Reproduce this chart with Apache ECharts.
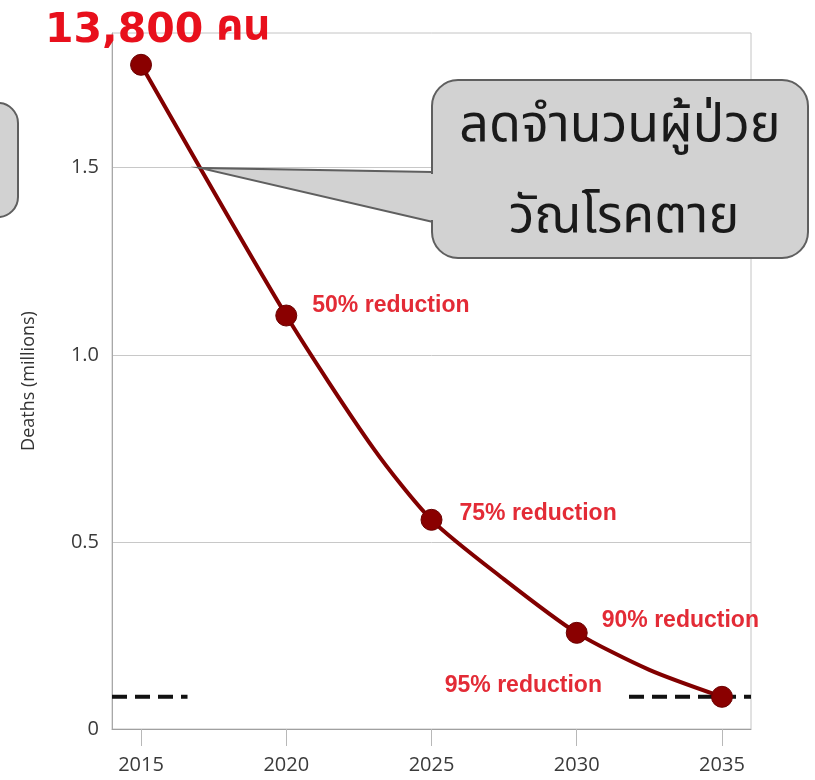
<!DOCTYPE html>
<html>
<head>
<meta charset="utf-8">
<script src="https://cdn.jsdelivr.net/npm/echarts@6/dist/echarts.min.js"></script>
<style>html,body{margin:0;padding:0;background:#fff}#c{width:815px;height:780px}</style>
</head>
<body>
<div id="c"></div>
<script>
// ---- data ----
const curveYears  = [2015, 2020, 2023, 2025, 2027.5, 2030, 2032.5, 2035];
const curveDeaths = [1.775, 1.105, 0.75, 0.559, 0.40, 0.257, 0.158, 0.086];
const markerYears  = [2015, 2020, 2025, 2030, 2035];
const markerDeaths = [1.775, 1.105, 0.559, 0.257, 0.086];
const reductionLabels = ['', '50% reduction', '75% reduction', '90% reduction', '95% reduction'];
const targetLevel = 0.086;
const targetDashLeft  = [2014, 2016.6];
const targetDashRight = [2031.8, 2036];
const xTicks = [2015, 2020, 2025, 2030, 2035];
const yTicks = [0, 0.5, 1.0, 1.5];
const yAxisName = 'Deaths (millions)';
const headline = '13,800';
const headlineUnit = 'คน';
const calloutLines = ['ลดจำนวนผู้ป่วย', 'วัณโรคตาย'];

const chart = echarts.init(document.getElementById('c'), null, {renderer: 'canvas'});

const labelPlacement = [
  {show: false},
  {position: 'right', distance: 15, offset: [0, -10]},
  {position: 'right', distance: 17, offset: [0, -6]},
  {position: 'right', distance: 14, offset: [0, -12]},
  {position: 'left', distance: 5, offset: [-104, -11]}
];
const labelFont = {color: '#e32b36', fontSize: 23, fontWeight: 'bold', fontFamily: 'Liberation Sans, Arial, sans-serif'};

const markerData = markerYears.map((yr, i) => ({
  value: [yr, markerDeaths[i]],
  label: Object.assign({show: !!reductionLabels[i], formatter: reductionLabels[i]}, labelFont, labelPlacement[i])
}));

const thaiFont = 'Noto Sans Thai, Noto Sans, DejaVu Sans, sans-serif';
const axisFont = 'Open Sans, sans-serif';
const boxFill = '#d2d2d2', boxStroke = '#5f5f5f';

chart.setOption({
  animation: false,
  backgroundColor: '#ffffff',
  grid: {left: 112, right: 64, top: 33, bottom: 51, show: true, borderColor: '#c4c4c4', borderWidth: 1},
  xAxis: {
    type: 'value', min: 2014, max: 2036,
    axisLine: {show: true, lineStyle: {color: '#a0a0a0', width: 1}},
    axisTick: {show: true, customValues: xTicks, length: 17, lineStyle: {color: '#b8b8b8'}},
    axisLabel: {customValues: xTicks, formatter: v => String(v), color: '#3a3a3a', fontSize: 20, margin: 26, fontFamily: axisFont},
    splitLine: {show: false}
  },
  yAxis: {
    type: 'value', min: 0, max: 1.86,
    name: yAxisName, nameLocation: 'middle', nameGap: 74, nameRotate: 90,
    nameTextStyle: {color: '#333', fontSize: 18, fontFamily: axisFont},
    axisLine: {show: true, lineStyle: {color: '#a8a8a8', width: 1}},
    axisTick: {show: false, customValues: yTicks},
    axisLabel: {customValues: yTicks, formatter: v => v === 0 ? '0' : v.toFixed(1), color: '#3a3a3a', fontSize: 20, margin: 13, fontFamily: axisFont},
    splitLine: {show: true, lineStyle: {color: '#c8c8c8', width: 1}}
  },
  series: [
    {
      type: 'line', z: 2, symbol: 'none', silent: true,
      data: targetDashLeft.map(x => [x, targetLevel]),
      lineStyle: {color: '#111', width: 4, type: [15, 8]}
    },
    {
      type: 'line', z: 2, symbol: 'none', silent: true,
      data: targetDashRight.map(x => [x, targetLevel]),
      lineStyle: {color: '#111', width: 4, type: [15, 8]}
    },
    {
      type: 'line', z: 3, symbol: 'none', smooth: 0.25,
      data: curveYears.map((x, i) => [x, curveDeaths[i]]),
      lineStyle: {color: '#820000', width: 4}
    },
    {
      type: 'scatter', z: 4, symbol: 'circle', symbolSize: 21,
      itemStyle: {color: '#8a0000', borderColor: '#6a0000', borderWidth: 1, opacity: 1},
      data: markerData
    }
  ],
  graphic: [
    {
      type: 'polygon', z: 100,
      shape: {points: [[433, 172], [200, 168], [433, 222]]},
      style: {fill: boxFill, stroke: boxStroke, lineWidth: 2}
    },
    {
      type: 'rect', z: 101,
      shape: {x: 432, y: 80, width: 376, height: 178, r: 26},
      style: {fill: boxFill, stroke: boxStroke, lineWidth: 2}
    },
    {
      type: 'rect', z: 102,
      shape: {x: 429, y: 174, width: 7, height: 46},
      style: {fill: boxFill}
    },
    {
      type: 'rect', z: 100,
      shape: {x: -40, y: 103, width: 58, height: 114, r: 20},
      style: {fill: boxFill, stroke: boxStroke, lineWidth: 2}
    },
    {
      type: 'text', z: 103, x: 620, y: 130,
      style: {text: calloutLines[0], fill: '#1a1a1a', fontSize: 52, fontFamily: thaiFont, textAlign: 'center', textVerticalAlign: 'middle'}
    },
    {
      type: 'text', z: 103, x: 624, y: 221,
      style: {text: calloutLines[1], fill: '#1a1a1a', fontSize: 52, fontFamily: thaiFont, textAlign: 'center', textVerticalAlign: 'middle'}
    },
    {
      type: 'text', z: 103, x: 45, y: 31,
      style: {
        text: '{a|' + headline + '}{b|' + headlineUnit + '}',
        textVerticalAlign: 'middle',
        rich: {
          a: {fill: '#e8101c', fontSize: 41, fontWeight: 'bold', fontFamily: 'DejaVu Sans, sans-serif'},
          b: {fill: '#e8101c', fontSize: 42, fontWeight: 'bold', fontFamily: thaiFont, padding: [0, 0, 0, 13]}
        }
      }
    }
  ]
});
</script>
</body>
</html>
